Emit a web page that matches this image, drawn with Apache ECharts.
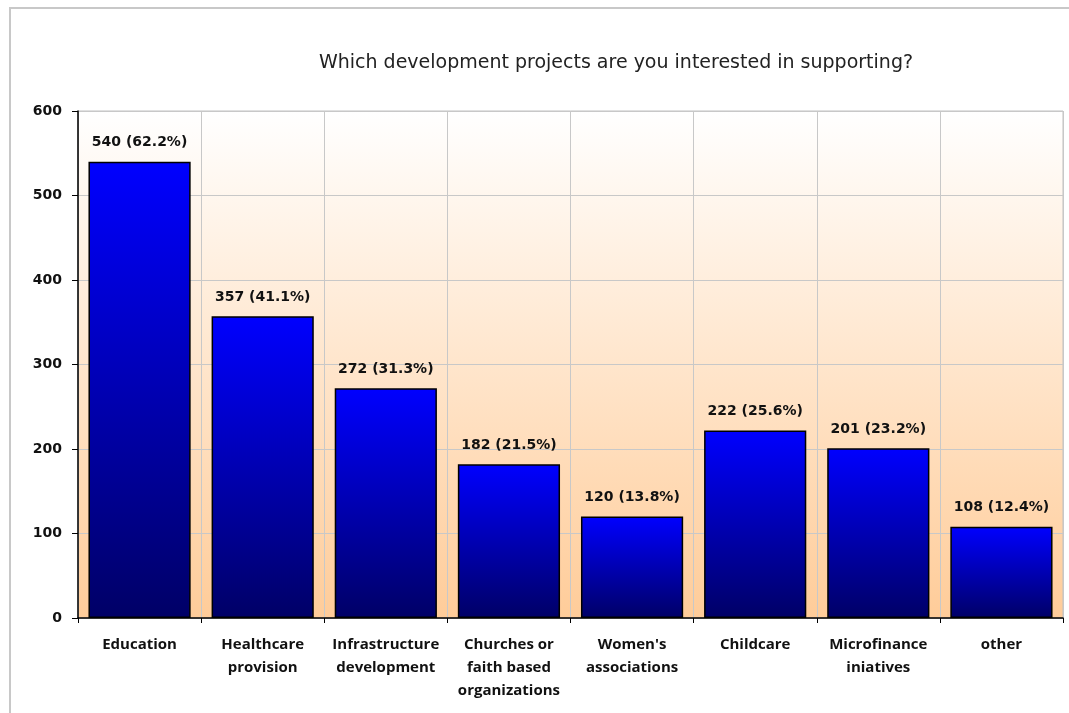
<!DOCTYPE html>
<html>
<head>
<meta charset="utf-8">
<script src="https://cdn.jsdelivr.net/npm/echarts@6/dist/echarts.min.js"></script>
<style>
  html, body { margin: 0; padding: 0; background: #fff; }
  #chart { width: 1069px; height: 713px; }
</style>
</head>
<body>
<div id="chart"></div>
<script>
var categories = ['Education', 'Healthcare\nprovision', 'Infrastructure\ndevelopment', 'Churches or\nfaith based\norganizations', "Women's\nassociations", 'Childcare', 'Microfinance\niniatives', 'other'];
var counts = [540, 357, 272, 182, 120, 222, 201, 108];
var percents = ['62.2%', '41.1%', '31.3%', '21.5%', '13.8%', '25.6%', '23.2%', '12.4%'];
var yTicks = [0, 100, 200, 300, 400, 500, 600];

var chart = echarts.init(document.getElementById('chart'));

var option = {
    backgroundColor: '#fff',
    animation: false,
    title: {
        text: 'Which development projects are you interested in supporting?',
        left: 611,
        textAlign: 'center',
        top: 49,
        textStyle: {
            fontFamily: 'DejaVu Sans',
            fontWeight: 'normal',
            fontSize: 19,
            color: '#222'
        }
    },
    graphic: [{
        type: 'rect',
        shape: { x: 10, y: 8, width: 1070, height: 720 },
        style: { fill: 'none', stroke: '#c8c8c8', lineWidth: 2 },
        silent: true
    }],
    grid: {
        left: 78, right: 6, top: 111, bottom: 95,
        show: true,
        borderColor: '#c0c0c0',
        borderWidth: 1,
        backgroundColor: new echarts.graphic.LinearGradient(0, 0, 0, 1, [
            { offset: 0, color: '#ffffff' },
            { offset: 1, color: '#ffcc99' }
        ])
    },
    xAxis: {
        type: 'category',
        data: categories,
        axisLine: { lineStyle: { color: '#000', width: 1.5 } },
        axisTick: { show: true, length: 5, lineStyle: { color: '#000' } },
        splitLine: { show: true, lineStyle: { color: '#c8c8c8', width: 1 } },
        axisLabel: {
            interval: 0,
            margin: 15,
            fontFamily: 'Open Sans',
            fontWeight: 'bold',
            fontSize: 15,
            lineHeight: 23,
            color: '#111'
        }
    },
    yAxis: {
        type: 'value',
        min: yTicks[0],
        max: yTicks[yTicks.length - 1],
        interval: 100,
        axisLine: { show: true, lineStyle: { color: '#000', width: 1.5 } },
        axisTick: { show: true, length: 6, lineStyle: { color: '#000' } },
        splitLine: { show: true, lineStyle: { color: '#c8c8c8', width: 1 } },
        axisLabel: {
            margin: 16,
            fontFamily: 'DejaVu Sans',
            fontWeight: 'bold',
            fontSize: 14,
            color: '#111'
        }
    },
    series: [{
        type: 'bar',
        data: counts,
        barCategoryGap: '17%',
        itemStyle: {
            borderColor: '#000',
            borderWidth: 1.5,
            color: new echarts.graphic.LinearGradient(0, 0, 0, 1, [
                { offset: 0, color: '#0000ff' },
                { offset: 1, color: '#000066' }
            ])
        },
        label: {
            show: true,
            position: 'top',
            distance: 12,
            fontFamily: 'DejaVu Sans',
            fontWeight: 'bold',
            fontSize: 14,
            color: '#111',
            formatter: function (p) {
                return p.value + ' (' + percents[p.dataIndex] + ')';
            }
        }
    }]
};

chart.setOption(option);
</script>
</body>
</html>
